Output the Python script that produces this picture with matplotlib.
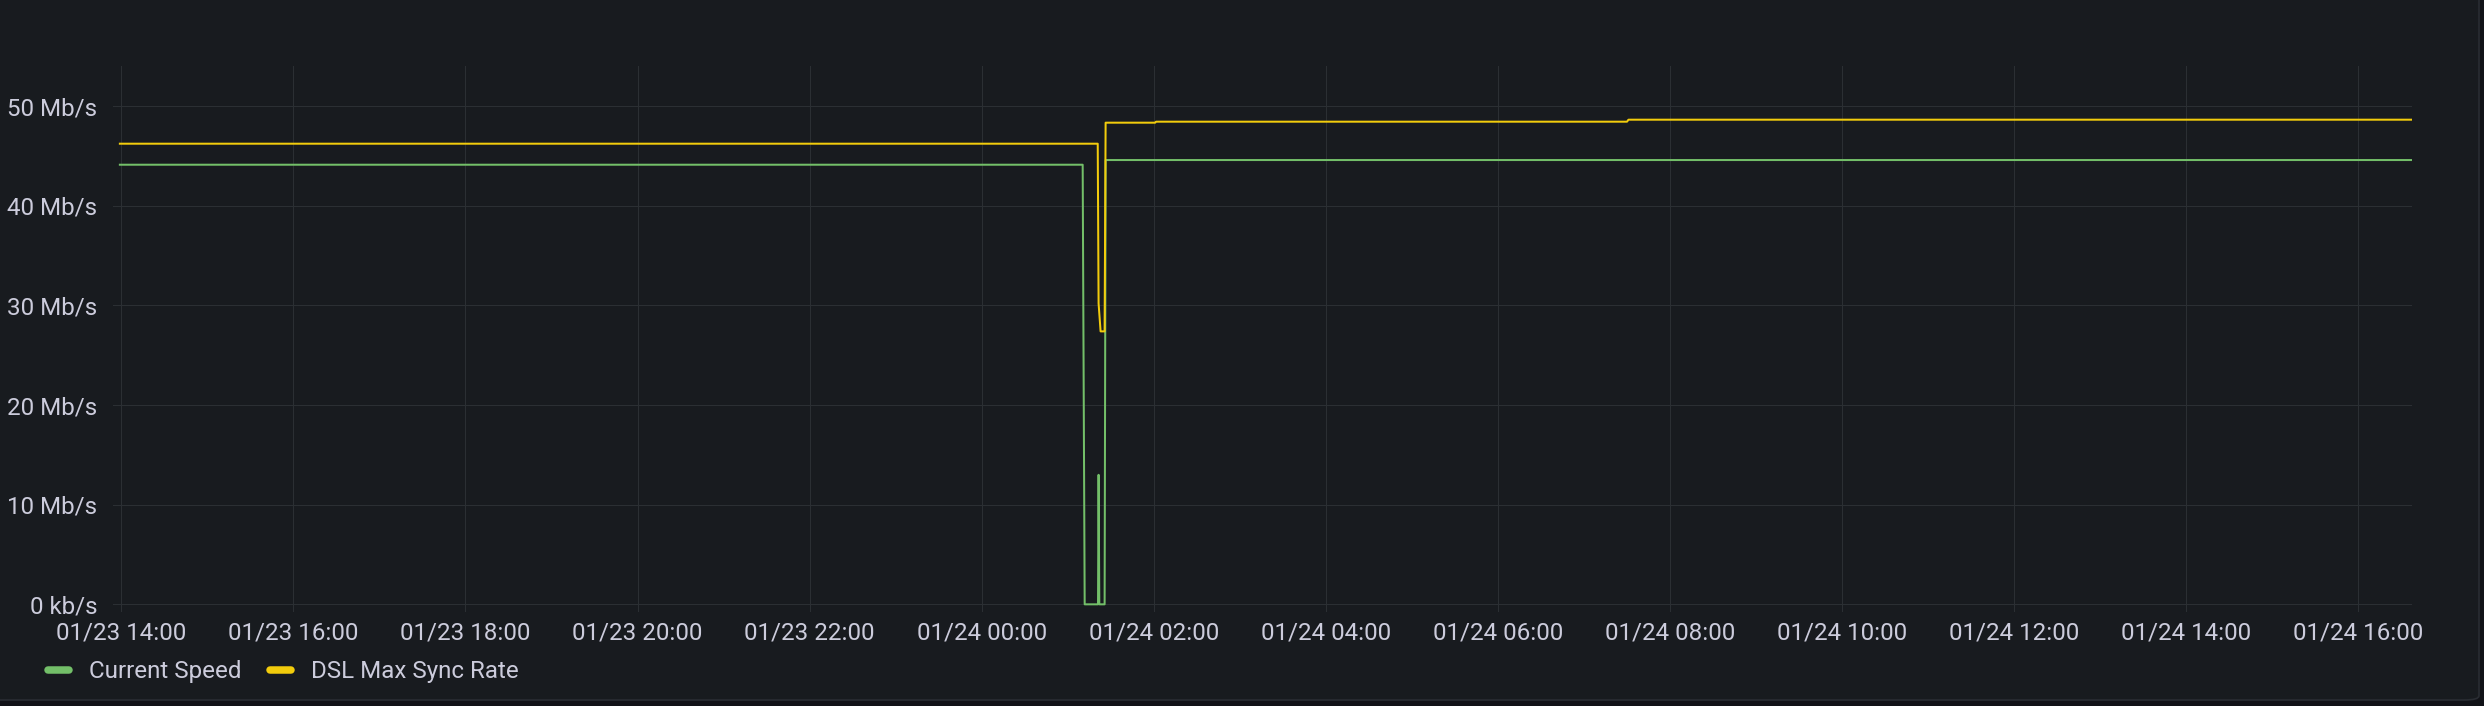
import pandas as pd
import matplotlib.pyplot as plt
import matplotlib.dates as mdates
from matplotlib.lines import Line2D
from matplotlib.patches import FancyBboxPatch

plt.rcParams['font.family'] = ['Roboto', 'DejaVu Sans']

# Current Speed (Mb/s)
speed_times = ['2023-01-23 13:59:00', '2023-01-24 01:10:24', '2023-01-24 01:11:48',
               '2023-01-24 01:21:06', '2023-01-24 01:21:30', '2023-01-24 01:22:00',
               '2023-01-24 01:25:42', '2023-01-24 01:26:24', '2023-01-24 16:37:00']
speed_values = [44.13, 44.13, 0, 0, 13.0, 0, 0, 44.6, 44.6]

# DSL Max Sync Rate (Mb/s)
sync_times = ['2023-01-23 13:59:00', '2023-01-24 01:20:54', '2023-01-24 01:21:30',
              '2023-01-24 01:22:54', '2023-01-24 01:25:42', '2023-01-24 01:26:24',
              '2023-01-24 02:01:00', '2023-01-24 02:01:30', '2023-01-24 07:30:00',
              '2023-01-24 07:31:00', '2023-01-24 16:37:00']
sync_values = [46.24, 46.24, 30.2, 27.4, 27.4, 48.35, 48.35, 48.45, 48.45, 48.65, 48.65]

y_ticks = [0, 10, 20, 30, 40, 50]
series_names = ['Current Speed', 'DSL Max Sync Rate']
series_colors = ['#73bf69', '#f2cc0c']

text_color = '#ccccdc'
grid_color = '#2b2f33'

fig = plt.figure(figsize=(24.84, 7.06), dpi=100, facecolor='#111217')
W, H = 2484, 706

# panel background with rounded corner
panel = FancyBboxPatch((-20 / W, 6 / H), (2479 + 20) / W, (H + 20) / H,
                       boxstyle='round,pad=0,rounding_size=0.006',
                       transform=fig.transFigure, facecolor='#181b1f',
                       edgecolor='#2a2d33', linewidth=1.2, zorder=-10)
fig.patches.append(panel)

ax = fig.add_axes([112.7 / W, 1 - 611.7 / H, (2412.3 - 112.7) / W, (611.7 - 66.4) / H])
ax.set_zorder(1)
ax.patch.set_alpha(0)

t_speed = pd.to_datetime(speed_times)
t_sync = pd.to_datetime(sync_times)
ax.plot(t_speed, speed_values, color=series_colors[0], lw=1.45, zorder=3)
ax.plot(t_sync, sync_values, color=series_colors[1], lw=1.45, zorder=3)

ax.set_xlim(pd.Timestamp('2023-01-23 13:54:00'), pd.Timestamp('2023-01-24 16:37:36'))
ax.set_ylim(-0.74, 54.0)

ax.xaxis.set_major_locator(mdates.HourLocator(byhour=range(0, 24, 2)))
ax.xaxis.set_major_formatter(mdates.DateFormatter('%m/%d %H:%M'))
ax.set_yticks(y_ticks)
ax.yaxis.set_major_formatter(plt.FuncFormatter(lambda v, p: '0 kb/s' if v == 0 else f'{int(v)} Mb/s'))

ax.tick_params(axis='both', length=0, labelsize=17.4, labelcolor=text_color)
ax.tick_params(axis='y', pad=11)
ax.tick_params(axis='x', pad=7)
ax.grid(True, color=grid_color, lw=0.75)
for s in ax.spines.values():
    s.set_visible(False)

handles = [Line2D([], [], color=c, lw=5.4, solid_capstyle='round') for c in series_colors]
fig.legend(handles, series_names, loc='center left', bbox_to_anchor=(47.75 / W, 1 - 671.5 / H),
           ncol=2, frameon=False, fontsize=17.4, labelcolor=text_color,
           handlelength=0.87, handletextpad=0.85, columnspacing=1.16,
           borderpad=0, borderaxespad=0)

plt.savefig('out.png', dpi=100, facecolor=fig.get_facecolor())
